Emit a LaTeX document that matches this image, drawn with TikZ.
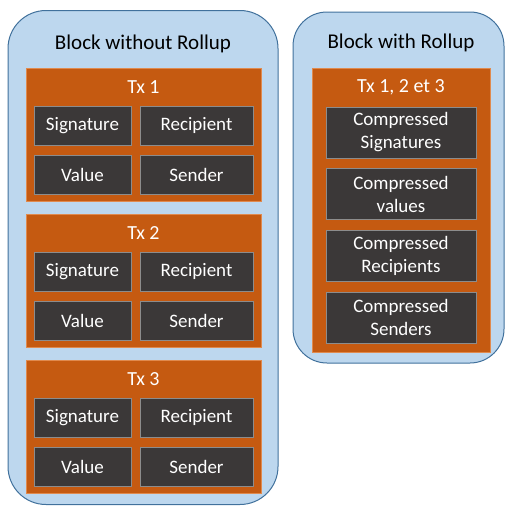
\documentclass[tikz,border=0pt]{standalone}
\usepackage{fontspec}
\setmainfont{Carlito}
\begin{document}
\begin{tikzpicture}[x=1pt,y=-1pt,
  block/.style={draw=blockedge, fill=blockfill, line width=1pt, rounded corners=38pt, inner sep=0pt},
  txbox/.style={draw=txedge, fill=txfill, line width=0.8pt, inner sep=0pt},
  field/.style={draw=fieldedge, fill=fieldfill, line width=0.8pt, inner sep=0pt, text=white,
    font=\fontsize{19}{23}\selectfont, align=center},
  title/.style={font=\fontsize{21}{25}\selectfont, text=black},
  txtitle/.style={font=\fontsize{20}{24}\selectfont, text=white}]
\definecolor{blockfill}{HTML}{BDD7EE}
\definecolor{blockedge}{HTML}{41719C}
\definecolor{txfill}{HTML}{C55A11}
\definecolor{txedge}{HTML}{E08A4E}
\definecolor{fieldfill}{HTML}{3B3838}
\definecolor{fieldedge}{HTML}{8C8C8C}
\useasboundingbox (0,0) rectangle (505,506);

% Block without rollup
\node[block, minimum width=270pt, minimum height=494pt] (left) at (143,257.5) {};
\node[title] (lefttitle) at (143,44) {Block without Rollup};

\foreach \i/\top in {1/68, 2/214, 3/360} {
  \node[txbox, minimum width=235pt, minimum height=133pt] (tx\i) at (143.5,\top+66.5) {};
  \node[txtitle] (tx\i label) at (143.5,\top+19) {Tx \i};
  \node[field, minimum width=97pt, minimum height=39pt] (sig\i) at (82.5,\top+57.5) {Signature};
  \node[field, minimum width=113pt, minimum height=39pt] (rec\i) at (196.5,\top+57.5) {Recipient};
  \node[field, minimum width=97pt, minimum height=39pt] (val\i) at (82.5,\top+106.5) {Value};
  \node[field, minimum width=113pt, minimum height=39pt] (snd\i) at (196.5,\top+106.5) {Sender};
}

% Block with rollup
\node[block, minimum width=211pt, minimum height=351pt, rounded corners=34pt] (right) at (398.5,187.5) {};
\node[title] (righttitle) at (401,43) {Block with Rollup};
\node[txbox, minimum width=178pt, minimum height=284pt] (txall) at (401,210) {};
\node[txtitle] (txall label) at (401,87) {Tx 1, 2 et 3};
\foreach \n/\top/\txt in {csig/107/{Compressed\\Signatures}, cval/168.5/{Compressed\\values},
                           crec/230/{Compressed\\Recipients}, csnd/292/{Compressed\\Senders}} {
  \node[field, minimum width=150pt, minimum height=51pt] (\n) at (401,\top+25.5) {\txt};
}
\end{tikzpicture}
\end{document}
